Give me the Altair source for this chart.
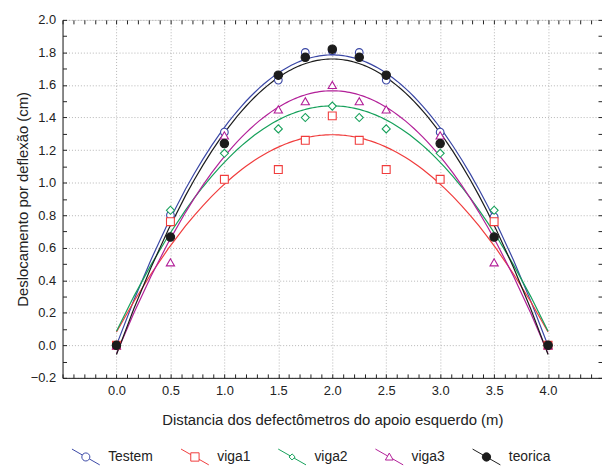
import altair as alt
import pandas as pd

series = ["Testem", "viga1", "viga2", "viga3", "teorica"]
x_pos = [0.0, 0.5, 1.0, 1.5, 1.75, 2.0, 2.25, 2.5, 3.0, 3.5, 4.0]
testem = [0.0, 0.80, 1.31, 1.63, 1.80, 1.81, 1.80, 1.63, 1.31, 0.79, 0.0]
viga1 = [0.0, 0.76, 1.02, 1.08, 1.26, 1.41, 1.26, 1.08, 1.02, 0.76, 0.0]
viga2 = [0.0, 0.83, 1.18, 1.33, 1.40, 1.47, 1.40, 1.33, 1.18, 0.83, 0.0]
viga3 = [0.0, 0.51, 1.29, 1.45, 1.50, 1.60, 1.50, 1.45, 1.29, 0.51, 0.0]
teorica = [0.0, 0.665, 1.24, 1.66, 1.77, 1.82, 1.77, 1.66, 1.24, 0.665, 0.0]

x_ticks = [0.0, 0.5, 1.0, 1.5, 2.0, 2.5, 3.0, 3.5, 4.0]
y_ticks = [-0.2, 0.0, 0.2, 0.4, 0.6, 0.8, 1.0, 1.2, 1.4, 1.6, 1.8, 2.0]
x_minor = [round(-0.5 + 0.1 * i, 1) for i in range(51)]
y_minor = [round(-0.2 + 0.1 * i, 1) for i in range(23)]

colors = ["#3a47a5", "#f03c3c", "#15a05a", "#b21f98", "#1c1c1c"]
fills = ["white", "white", "white", "white", "#1c1c1c"]
marker_shapes = ["circle", "square", "diamond", "triangle-up", "circle"]
marker_sizes = [60, 72, 26, 45, 72]
legend_paths = [
    "M -1 -0.57 L -0.25 -0.14 M 0.25 0.14 L 1 0.57 M 0.29 0 A 0.29 0.29 0 1 1 -0.29 0 A 0.29 0.29 0 1 1 0.29 0 Z",
    "M -1 -0.57 L -0.3 -0.17 M 0.3 0.17 L 1 0.57 M -0.3 -0.3 L 0.3 -0.3 L 0.3 0.3 L -0.3 0.3 Z",
    "M -1 -0.57 L -0.14 -0.08 M 0.14 0.08 L 1 0.57 M 0 -0.22 L 0.22 0 L 0 0.22 L -0.22 0 Z",
    "M -1 -0.57 L -0.12 -0.07 M 0.23 0.13 L 1 0.57 M 0 -0.28 L 0.28 0.22 L -0.28 0.22 Z",
    "M -1 -0.57 L 1 0.57 M 0.3 0 A 0.3 0.3 0 1 1 -0.3 0 A 0.3 0.3 0 1 1 0.3 0 Z",
]

rows = []
for name, vals in zip(series, [testem, viga1, viga2, viga3, teorica]):
    for xv, yv in zip(x_pos, vals):
        rows.append({"x": xv, "y": yv, "series": name})
df = pd.DataFrame(rows)

xs = alt.Scale(domain=[-0.5, 4.5], nice=False, zero=False)
ys = alt.Scale(domain=[-0.2, 2.0], nice=False, zero=False)
FONT = "Liberation Sans"

main_x = alt.Axis(values=x_ticks, format=".1f", grid=True, gridDash=[1, 2], gridColor="#b5b5b5",
                  ticks=False, domain=True, domainColor="#222", labelFontSize=13, labelColor="#222",
                  labelPadding=7, title="Distancia dos defectômetros do apoio esquerdo (m)",
                  titleFontSize=15, titleFontWeight="normal", titleColor="#222", titlePadding=15,
                  orient="bottom")
main_y = alt.Axis(values=y_ticks, format=".1f", grid=True, gridDash=[1, 2], gridColor="#b5b5b5",
                  ticks=False, domain=True, domainColor="#222", labelFontSize=13, labelColor="#222",
                  labelPadding=7, title="Deslocamento por deflexão (cm)",
                  titleFontSize=15, titleFontWeight="normal", titleColor="#222", titlePadding=0,
                  orient="left")


def minor_axis(vals, orient):
    return alt.Axis(values=vals, labels=False, grid=False, domain=False, ticks=True, tickSize=4,
                    tickColor="#222", offset=-4, orient=orient)


lines = alt.Chart(df).transform_regression(
    "x", "y", method="poly", order=2, groupby=["series"]
).mark_line(strokeWidth=1.2).encode(
    x=alt.X("x:Q", scale=xs, axis=main_x),
    y=alt.Y("y:Q", scale=ys, axis=main_y),
    stroke=alt.Stroke("series:N", scale=alt.Scale(domain=series, range=colors), legend=None),
    detail="series:N",
)

points = alt.Chart(df).mark_point(opacity=1, strokeWidth=1.1).encode(
    x=alt.X("x:Q", scale=xs, axis=None),
    y=alt.Y("y:Q", scale=ys, axis=None),
    stroke=alt.Stroke("series:N", scale=alt.Scale(domain=series, range=colors), legend=None),
    fill=alt.Fill("series:N", scale=alt.Scale(domain=series, range=fills), legend=None),
    shape=alt.Shape("series:N", scale=alt.Scale(domain=series, range=marker_shapes), legend=None),
    size=alt.Size("series:N", scale=alt.Scale(domain=series, range=marker_sizes), legend=None),
    order=alt.Order("order:Q"),
).transform_calculate(order="indexof(%s, datum.series)" % str(series))

leg = alt.Legend(orient="none", legendX=9, legendY=426, direction="horizontal", columns=5,
                 columnPadding=25, symbolSize=784, symbolStrokeWidth=1, labelFontSize=14,
                 labelOffset=8, labelColor="#222", labelFont=FONT, title=None, padding=0,
                 gridAlign="each")

legend_layer = alt.Chart(df).transform_filter("datum.y > 100").mark_point(opacity=1, strokeWidth=1).encode(
    x=alt.X("x:Q", scale=xs, axis=None),
    y=alt.Y("y:Q", scale=ys, axis=None),
    stroke=alt.Stroke("series:N", scale=alt.Scale(domain=series, range=colors), legend=leg),
    fill=alt.Fill("series:N", scale=alt.Scale(domain=series, range=fills), legend=leg),
    shape=alt.Shape("series:N", scale=alt.Scale(domain=series, range=legend_paths), legend=leg),
)

ticks_a = alt.Chart(df).transform_filter("datum.y > 100").mark_point().encode(
    x=alt.X("x:Q", scale=xs, axis=minor_axis(x_minor, "bottom"), title=None),
    y=alt.Y("y:Q", scale=ys, axis=minor_axis(y_minor, "left"), title=None),
)
ticks_b = alt.Chart(df).transform_filter("datum.y > 100").mark_point().encode(
    x=alt.X("x:Q", scale=xs, axis=minor_axis(x_minor, "top"), title=None),
    y=alt.Y("y:Q", scale=ys, axis=minor_axis(y_minor, "right"), title=None),
)

chart = alt.layer(lines, points, legend_layer, ticks_a, ticks_b).resolve_scale(
    stroke="independent", fill="independent", shape="independent", size="independent"
).resolve_axis(x="independent", y="independent").properties(
    width=544, height=361,
    autosize=alt.AutoSizeParams(type="none"),
    padding={"left": 55, "top": 10, "right": 0, "bottom": 100},
).configure_view(stroke="#222", strokeWidth=1).configure(font=FONT)

chart.save("out.html", embed_options={"renderer": "svg", "actions": False})
